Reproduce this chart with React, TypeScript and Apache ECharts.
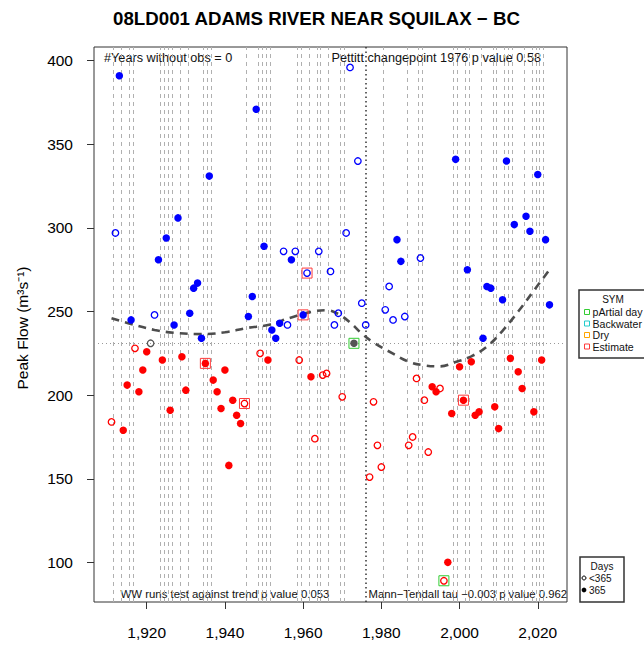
import React, { useEffect, useRef } from "react";
import * as echarts from "echarts";

const years = [
  1911, 1912, 1913, 1914, 1915, 1916, 1917, 1918, 1919, 1920,
  1921, 1922, 1923, 1924, 1925, 1926, 1927, 1928, 1929, 1930,
  1931, 1932, 1933, 1934, 1935, 1936, 1937, 1938, 1939, 1940,
  1941, 1942, 1943, 1944, 1945, 1946, 1947, 1948, 1949, 1950,
  1951, 1952, 1953, 1954, 1955, 1956, 1957, 1958, 1959, 1960,
  1961, 1962, 1963, 1964, 1965, 1966, 1967, 1968, 1969, 1970,
  1971, 1972, 1973, 1974, 1975, 1976, 1977, 1978, 1979, 1980,
  1981, 1982, 1983, 1984, 1985, 1986, 1987, 1988, 1989, 1990,
  1991, 1992, 1993, 1994, 1995, 1996, 1997, 1998, 1999, 2000,
  2001, 2002, 2003, 2004, 2005, 2006, 2007, 2008, 2009, 2010,
  2011, 2012, 2013, 2014, 2015, 2016, 2017, 2018, 2019, 2020,
  2021, 2022, 2023,
];

const peakFlow = [
  184, 297, 391, 179, 206, 245, 228, 202, 215, 226,
  231, 248, 281, 221, 294, 191, 242, 306, 223, 203,
  249, 264, 267, 234, 219, 331, 209, 202, 192, 215,
  158, 197, 188, 183, 195, 247, 259, 371, 225, 289,
  221, 239, 234, 243, 286, 242, 281, 286, 221, 248,
  273, 211, 174, 286, 212, 213, 274, 242, 249, 199,
  297, 396, 231, 340, 255, 242, 151, 196, 170, 157,
  251, 265, 245, 293, 280, 247, 170, 175, 210, 282,
  197, 166, 205, 202, 204, 89, 100, 189, 341, 217,
  197, 275, 220, 188, 190, 234, 265, 264, 193, 180,
  257, 340, 222, 302, 214, 204, 307, 298, 190, 332,
  221, 293, 254,
];

// 1 = 365 days of record (filled), 0 = fewer than 365 (open)
const fullYear = [
  0, 0, 1, 1, 1, 1, 0, 1, 1, 1,
  0, 0, 1, 1, 1, 1, 1, 1, 1, 1,
  1, 1, 1, 1, 1, 1, 1, 1, 1, 1,
  1, 1, 1, 1, 0, 1, 1, 1, 0, 1,
  1, 1, 1, 1, 0, 0, 1, 0, 0, 1,
  0, 1, 0, 0, 0, 0, 0, 0, 0, 0,
  0, 0, 1, 0, 0, 0, 0, 0, 0, 0,
  0, 0, 0, 1, 1, 0, 0, 0, 0, 0,
  0, 0, 1, 1, 0, 0, 1, 1, 1, 1,
  1, 1, 1, 1, 1, 1, 1, 1, 1, 1,
  1, 1, 1, 1, 1, 1, 1, 1, 1, 1,
  1, 1, 1,
];

const medianFlow = 231;
const estimateYears = [1935, 1945, 1960, 1961, 2001];
const partialYears = [1973, 1996];
const changepointYear = 1976;

const markedYears = [
  1911.5, 1913.5, 1915.5, 1916.5,
  1923.5, 1924.5, 1925.5, 1926.5, 1928.5, 1930.5,
  1934.5, 1935.5, 1936.5,
  1945.5,
  1948.5, 1949.5, 1950.5, 1951.5,
  1958.5, 1959.5, 1961.5, 1963.5, 1964.5, 1966.5, 1969.5, 1970.5,
  1980.5,
  1986.5, 1989.5, 1990.5,
  1998.5, 1999.5, 2001.5, 2002.5, 2005.5, 2008.5, 2009.5, 2011.5, 2012.5,
  2013.5, 2016.5, 2018.5, 2019.5, 2020.5, 2021.5,
];

const smoothYears = [
  1911, 1916, 1922, 1927, 1934, 1940, 1946, 1951, 1957, 1962, 1966, 1969,
  1972, 1975, 1978, 1983, 1987, 1991, 1995, 1999, 2003, 2007, 2011, 2015,
  2019, 2023,
];
const smoothFlow = [
  246, 242.5, 239, 237.3, 236.5, 237.6, 240.3, 242, 246.5, 249.8, 250.8,
  248.5, 243.5, 236.8, 231.5, 224.8, 220, 217.8, 217.2, 219.8, 223.2, 229,
  238.5, 250, 262.5, 275,
];

const xTicks = [1920, 1940, 1960, 1980, 2000, 2020];
const yTicks = [100, 150, 200, 250, 300, 350, 400];

const symLegend = [
  { label: "pArtial day", color: "#33cc33" },
  { label: "Backwater", color: "#22cccc" },
  { label: "Dry", color: "#ffa500" },
  { label: "Estimate", color: "#ff3b3b" },
];

const FONT = '"Liberation Sans", Arial, Helvetica, sans-serif';

export default function App() {
  const ref = useRef<HTMLDivElement>(null);

  useEffect(() => {
    if (!ref.current) return;
    const chart = echarts.init(ref.current, null, { renderer: "svg" });

    const pointData = years.map((yr, i) => {
      const v = peakFlow[i];
      const col = v > medianFlow ? "#0000ff" : v < medianFlow ? "#ff0000" : "#555555";
      const filled = fullYear[i] === 1;
      return {
        value: [yr, v],
        symbolSize: filled ? 7.5 : 6.5,
        itemStyle: filled
          ? { color: col, borderWidth: 0, opacity: 1 }
          : { color: "rgba(0,0,0,0)", borderColor: col, borderWidth: 1.3, opacity: 1 },
      };
    });

    const flagData: any[] = [];
    years.forEach((yr, i) => {
      if (estimateYears.includes(yr)) {
        flagData.push({ value: [yr, peakFlow[i]], itemStyle: { color: "rgba(0,0,0,0)", borderColor: "#ff3b3b", borderWidth: 1, opacity: 1 } });
      }
      if (partialYears.includes(yr)) {
        flagData.push({ value: [yr, peakFlow[i]], itemStyle: { color: "rgba(0,0,0,0)", borderColor: "#33cc33", borderWidth: 1, opacity: 1 } });
      }
    });

    const guideLines: any[] = markedYears.map((x) => ({
      xAxis: x,
      lineStyle: { color: "#b0b0b0", width: 1, type: [4, 4] },
    }));
    guideLines.push({ xAxis: changepointYear, lineStyle: { color: "#333333", width: 1.5, type: [1.5, 3] } });
    guideLines.push({ yAxis: medianFlow, lineStyle: { color: "#999999", width: 1, type: [1, 3] } });

    const graphics: any[] = [
      {
        type: "text", x: 316.5, y: 18,
        style: { text: "08LD001 ADAMS RIVER NEAR SQUILAX \u2212 BC", fontFamily: FONT, fontSize: 18.7, fontWeight: "bold", fill: "#000", align: "center", verticalAlign: "middle" },
      },
      {
        type: "text", x: 22, y: 328, rotation: Math.PI / 2,
        style: { text: "Peak Flow (m\u00b3s\u207b\u00b9)", fontFamily: FONT, fontSize: 15.5, fill: "#000", align: "center", verticalAlign: "middle" },
      },
      {
        type: "text", x: 104, y: 58,
        style: { text: "#Years without obs = 0", fontFamily: FONT, fontSize: 12.7, fill: "#111", align: "left", verticalAlign: "middle" },
      },
      {
        type: "text", x: 541, y: 58,
        style: { text: "Pettitt changepoint 1976 p value 0.58", fontFamily: FONT, fontSize: 12.7, fill: "#111", align: "right", verticalAlign: "middle" },
      },
      {
        type: "text", x: 120.5, y: 594,
        style: { text: "WW runs test against trend p value 0.053", fontFamily: FONT, fontSize: 11.4, fill: "#111", align: "left", verticalAlign: "middle" },
      },
      {
        type: "text", x: 567, y: 594,
        style: { text: "Mann\u2212Tendall tau \u22120.003 p value 0.962", fontFamily: FONT, fontSize: 11.3, fill: "#111", align: "right", verticalAlign: "middle" },
      },
      // SYM legend
      {
        type: "rect", shape: { x: 579, y: 290, width: 90, height: 68 },
        style: { fill: "#fff", stroke: "#333", lineWidth: 1.5 },
      },
      {
        type: "text", x: 613, y: 299,
        style: { text: "SYM", fontFamily: FONT, fontSize: 10, fill: "#111", align: "center", verticalAlign: "middle" },
      },
    ];
    const rowY = [312, 323.5, 335, 346.5];
    symLegend.forEach((s, i) => {
      graphics.push({
        type: "rect", shape: { x: 584.5, y: rowY[i] - 2.5, width: 5, height: 5 },
        style: { fill: "none", stroke: s.color, lineWidth: 1 },
      });
      graphics.push({
        type: "text", x: 592.5, y: rowY[i],
        style: { text: s.label, fontFamily: FONT, fontSize: 10.6, fill: "#111", align: "left", verticalAlign: "middle" },
      });
    });
    // Days legend
    graphics.push(
      {
        type: "rect", shape: { x: 580, y: 557, width: 44, height: 45 },
        style: { fill: "#fff", stroke: "#333", lineWidth: 1.5 },
      },
      {
        type: "text", x: 602, y: 566,
        style: { text: "Days", fontFamily: FONT, fontSize: 10, fill: "#111", align: "center", verticalAlign: "middle" },
      },
      {
        type: "circle", shape: { cx: 584, cy: 578, r: 2 },
        style: { fill: "none", stroke: "#000", lineWidth: 1 },
      },
      {
        type: "text", x: 589, y: 578,
        style: { text: "<365", fontFamily: FONT, fontSize: 10, fill: "#111", align: "left", verticalAlign: "middle" },
      },
      {
        type: "circle", shape: { cx: 584, cy: 590, r: 2.4 },
        style: { fill: "#000", stroke: "none" },
      },
      {
        type: "text", x: 589, y: 590,
        style: { text: "365", fontFamily: FONT, fontSize: 10, fill: "#111", align: "left", verticalAlign: "middle" },
      }
    );

    const option: any = {
      animation: false,
      backgroundColor: "#fff",
      grid: { left: 94, right: 77, top: 47, bottom: 45, show: true, borderColor: "#333", borderWidth: 1, backgroundColor: "transparent" },
      xAxis: {
        type: "value",
        min: 1906.52,
        max: 2027.48,
        axisLine: { show: false },
        splitLine: { show: false },
        axisTick: { show: true, inside: false, length: 7, lineStyle: { color: "#333" }, customValues: xTicks },
        axisLabel: { show: true, margin: 22, fontSize: 15.5, fontFamily: FONT, color: "#000", customValues: xTicks },
      },
      yAxis: {
        type: "value",
        min: 76.3,
        max: 408.2,
        axisLine: { show: false },
        splitLine: { show: false },
        axisTick: { show: true, inside: false, length: 7, lineStyle: { color: "#333" }, customValues: yTicks },
        axisLabel: { show: true, margin: 21, fontSize: 15.5, fontFamily: FONT, color: "#000", customValues: yTicks },
      },
      series: [
        {
          type: "scatter",
          name: "guides",
          z: 1,
          data: [[changepointYear, medianFlow]],
          symbolSize: 0,
          itemStyle: { opacity: 0 },
          silent: true,
          markLine: {
            z: 1,
            silent: true,
            symbol: ["none", "none"],
            label: { show: false },
            data: guideLines,
          },
        },
        {
          type: "line",
          name: "smooth",
          z: 2,
          data: smoothYears.map((y, i) => [y, smoothFlow[i]]),
          smooth: 0.4,
          showSymbol: false,
          symbol: "none",
          lineStyle: { color: "#4d4d4d", width: 2.6, type: [8, 6] },
          silent: true,
        },
        {
          type: "scatter",
          name: "points",
          z: 3,
          symbol: "circle",
          itemStyle: { opacity: 1 },
          data: pointData,
        },
        {
          type: "scatter",
          name: "flags",
          z: 4,
          symbol: "rect",
          symbolSize: 10,
          itemStyle: { opacity: 1 },
          data: flagData,
        },
      ],
      graphic: graphics,
    };

    chart.setOption(option);
    return () => chart.dispose();
  }, []);

  return (
    <div
      ref={ref}
      style={{ position: "absolute", left: 0, top: 0, width: 644, height: 647, background: "#fff" }}
    />
  );
}
